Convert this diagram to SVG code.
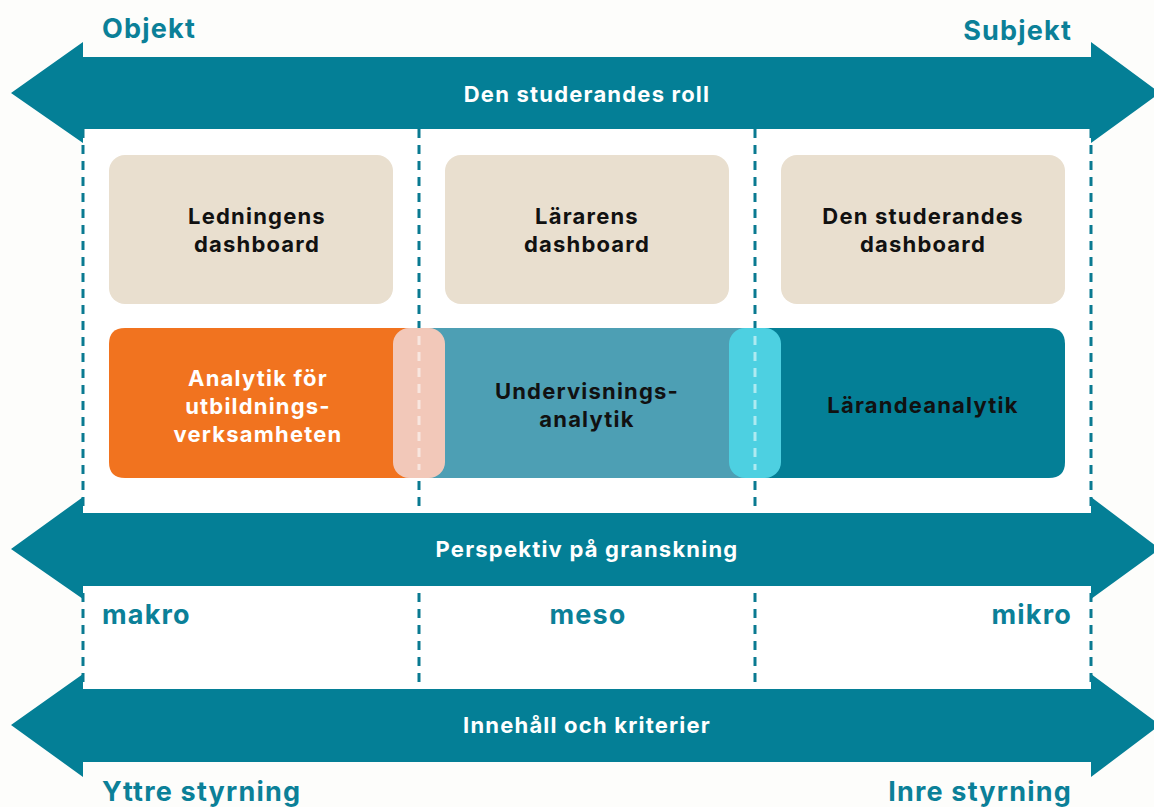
<svg xmlns="http://www.w3.org/2000/svg" width="1154" height="807" viewBox="0 0 1154 807">
<style>
.arrow{fill:#047f96}
.dash{stroke:#0a7a91;stroke-width:3;stroke-dasharray:9 7;fill:none}
.dashlight{stroke:#ffffff;stroke-opacity:0.55;stroke-width:3;stroke-dasharray:9 7;fill:none}
.beige{fill:#e9dfcf}
.t{font-family:Inter,"Noto Sans",sans-serif;font-weight:700;text-anchor:middle;letter-spacing:1.2px}
.axis{font-family:Inter,"Noto Sans",sans-serif;font-weight:700;font-size:27px;fill:#0b8098;letter-spacing:1.2px}
.wl{font-size:22px;fill:#ffffff}
.bl{font-size:22px;fill:#111111}
</style>
<rect width="1154" height="807" fill="#fdfdfb"/>
<rect x="83" y="129" width="1008" height="560" fill="#ffffff"/>
<g id="connectors">
<line class="dash" x1="83" y1="129" x2="83" y2="689"/>
<line class="dash" x1="419" y1="129" x2="419" y2="689"/>
<line class="dash" x1="755" y1="129" x2="755" y2="689"/>
<line class="dash" x1="1091" y1="129" x2="1091" y2="689"/>
</g>
<g id="arrow-roll">
<polygon class="arrow" points="11,93 83,42 83,57 1091,57 1091,42 1160,93 1091,143 1091,129 83,129 83,143"/>
<text class="t wl" x="587" y="102">Den studerandes roll</text>
</g>
<g id="arrow-perspektiv">
<polygon class="arrow" points="11,549 83,497 83,513 1091,513 1091,497 1160,549 1091,599 1091,586 83,586 83,599"/>
<text class="t wl" x="587" y="557">Perspektiv på granskning</text>
</g>
<g id="arrow-innehall">
<polygon class="arrow" points="11,725 83,674 83,689 1091,689 1091,674 1160,725 1091,777 1091,762 83,762 83,777"/>
<text class="t wl" x="587" y="733">Innehåll och kriterier</text>
</g>
<g id="label-objekt"><text class="axis" x="102" y="38">Objekt</text></g>
<g id="label-subjekt"><text class="axis" x="1072" y="40" text-anchor="end">Subjekt</text></g>
<g id="label-makro"><text class="axis" x="102" y="624">makro</text></g>
<g id="label-meso"><text class="axis" x="588" y="624" text-anchor="middle">meso</text></g>
<g id="label-mikro"><text class="axis" x="1072" y="624" text-anchor="end">mikro</text></g>
<g id="label-yttre"><text class="axis" x="102" y="801">Yttre styrning</text></g>
<g id="label-inre"><text class="axis" x="1072" y="801" text-anchor="end">Inre styrning</text></g>
<g id="node-ledningens">
<rect class="beige" x="109" y="155" width="284" height="149" rx="16"/>
<text class="t bl" x="257" y="224">Ledningens</text>
<text class="t bl" x="257" y="252">dashboard</text>
</g>
<g id="node-lararens">
<rect class="beige" x="445" y="155" width="284" height="149" rx="16"/>
<text class="t bl" x="587" y="224">Lärarens</text>
<text class="t bl" x="587" y="252">dashboard</text>
</g>
<g id="node-studerandes">
<rect class="beige" x="781" y="155" width="284" height="149" rx="16"/>
<text class="t bl" x="923" y="224">Den studerandes</text>
<text class="t bl" x="923" y="252">dashboard</text>
</g>
<g id="node-analytik-utbildning">
<path d="M125,328 H420 V478 H125 Q109,478 109,462 V344 Q109,328 125,328 Z" fill="#f1731f"/>
<text class="t wl" x="258" y="386">Analytik för</text>
<text class="t wl" x="258" y="414">utbildnings-</text>
<text class="t wl" x="258" y="442">verksamheten</text>
</g>
<g id="node-undervisning">
<rect x="420" y="328" width="336" height="150" fill="#4d9fb4"/>
<text class="t bl" x="587" y="399">Undervisnings-</text>
<text class="t bl" x="587" y="427">analytik</text>
</g>
<g id="node-larande">
<path d="M756,328 H1049 Q1065,328 1065,344 V462 Q1065,478 1049,478 H756 Z" fill="#047f96"/>
<text class="t bl" x="923" y="413">Lärandeanalytik</text>
</g>
<g id="overlay-left">
<rect x="393" y="328" width="52" height="150" rx="16" fill="#f2c8b9"/>
<line class="dashlight" x1="419" y1="336" x2="419" y2="470"/>
</g>
<g id="overlay-right">
<rect x="729" y="328" width="52" height="150" rx="16" fill="#4dd0e1"/>
<line class="dashlight" x1="755" y1="336" x2="755" y2="470"/>
</g>
</svg>
